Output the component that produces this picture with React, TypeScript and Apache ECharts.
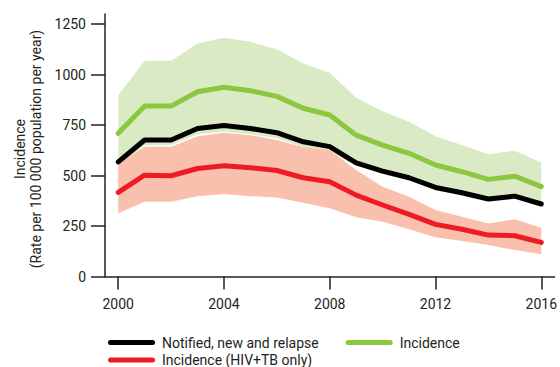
import React, { useEffect, useRef } from "react";
import * as echarts from "echarts";

const years = [2000, 2001, 2002, 2003, 2004, 2005, 2006, 2007, 2008, 2009, 2010, 2011, 2012, 2013, 2014, 2015, 2016];
const notified = [568, 676, 676, 733, 748, 733, 712, 667, 643, 563, 522, 489, 441, 415, 384, 398, 359];
const incidence = [709, 844, 844, 915, 937, 920, 892, 833, 800, 700, 651, 610, 552, 519, 481, 497, 445];
const incidenceLow = [550, 650, 650, 705, 718, 705, 685, 640, 615, 548, 507, 474, 427, 400, 370, 384, 345];
const incidenceHigh = [898, 1068, 1068, 1154, 1182, 1162, 1125, 1055, 1009, 885, 819, 766, 695, 651, 606, 623, 565];
const hivTb = [417, 502, 499, 535, 548, 539, 525, 489, 469, 403, 354, 308, 258, 234, 205, 202, 169];
const hivTbLow = [313, 370, 370, 398, 408, 398, 391, 365, 338, 293, 271, 234, 194, 176, 156, 131, 110];
const hivTbHigh = [560, 643, 643, 695, 712, 700, 676, 640, 625, 527, 445, 395, 329, 296, 263, 283, 242];

const xTicks = [2000, 2004, 2008, 2012, 2016];
const yTicks = [0, 250, 500, 750, 1000, 1250];

const seriesNames = ["Notified, new and relapse", "Incidence", "Incidence (HIV+TB only)"];
const yTitle = ["Incidence", "(Rate per 100 000 population per year)"];

const FONT = "Roboto";
const TEXT = "#231f20";

export default function App() {
  const ref = useRef<HTMLDivElement>(null);
  useEffect(() => {
    if (!ref.current) return;
    const chart = echarts.init(ref.current, undefined, { renderer: "svg" });
    const pts = (arr: number[]) => years.map((y, i) => [y, arr[i]]);
    const bandData = (lo: number[], hi: number[]) => years.map((y, i) => [y, lo[i], hi[i]]);
    const bandSeries = (name: string, lo: number[], hi: number[], color: string) => ({
      type: "custom",
      name,
      silent: true,
      data: bandData(lo, hi),
      encode: { x: 0, y: [1, 2] },
      renderItem: (params: any, api: any) => {
        if (params.dataIndex !== 0) return null;
        const top = years.map((y, i) => api.coord([y, hi[i]]));
        const bottom = years.map((y, i) => api.coord([y, lo[i]])).reverse();
        return {
          type: "polygon",
          shape: { points: top.concat(bottom) },
          style: { fill: color },
        };
      },
    });
    const lineBase = {
      type: "line",
      showSymbol: false,
      symbol: "none",
      silent: true,
    };
    const legendIcon = "path://M2.5,0 L44.5,0 A2.5,2.5 0 0 1 44.5,5 L2.5,5 A2.5,2.5 0 0 1 2.5,0 Z";
    chart.setOption({
      animation: false,
      textStyle: { fontFamily: FONT },
      grid: { left: 105, right: 3, top: 14, bottom: 90.5 },
      xAxis: {
        type: "value",
        min: 1999.5,
        max: 2016.5,
        splitLine: { show: false },
        axisLine: { show: true, lineStyle: { color: TEXT, width: 1.5 } },
        axisTick: { show: true, length: 13, lineStyle: { color: TEXT, width: 1.5 }, customValues: xTicks },
        axisLabel: {
          customValues: xTicks,
          margin: 20,
          color: TEXT,
          fontSize: 14,
          fontFamily: FONT,
          formatter: (v: number) => String(v),
        },
      },
      yAxis: {
        type: "value",
        min: 0,
        max: 1300,
        splitLine: { show: false },
        axisLine: { show: true, lineStyle: { color: TEXT, width: 1.5 } },
        axisTick: { show: true, length: 14, lineStyle: { color: TEXT, width: 1.5 }, customValues: yTicks },
        axisLabel: {
          customValues: yTicks,
          margin: 19,
          color: TEXT,
          fontSize: 14,
          fontFamily: FONT,
          formatter: (v: number) => String(v),
        },
      },
      legend: [
        {
          data: [seriesNames[0], seriesNames[1]],
          left: 103,
          top: 330.5,
          itemWidth: 47,
          itemHeight: 5,
          itemGap: 27,
          icon: legendIcon,
          textStyle: { color: TEXT, fontSize: 14, fontFamily: FONT, padding: [0, 0, 0, 2] },
          selectedMode: false,
        },
        {
          data: [seriesNames[2]],
          left: 103,
          top: 348,
          itemWidth: 47,
          itemHeight: 5,
          icon: legendIcon,
          textStyle: { color: TEXT, fontSize: 14, fontFamily: FONT, padding: [0, 0, 0, 2] },
          selectedMode: false,
        },
      ],
      graphic: [
        {
          type: "text",
          x: 20,
          y: 149,
          rotation: Math.PI / 2,
          style: {
            text: yTitle[0],
            fill: TEXT,
            fontSize: 14,
            fontFamily: FONT,
            align: "center",
            verticalAlign: "middle",
          },
        },
        {
          type: "text",
          x: 36,
          y: 149,
          rotation: Math.PI / 2,
          style: {
            text: yTitle[1],
            fill: TEXT,
            fontSize: 14,
            fontFamily: FONT,
            align: "center",
            verticalAlign: "middle",
          },
        },
      ],
      series: [
        bandSeries("incBand", incidenceLow, incidenceHigh, "#d9eac5"),
        bandSeries("hivBand", hivTbLow, hivTbHigh, "#f9c1ad"),
        {
          ...lineBase,
          name: seriesNames[1],
          data: pts(incidence),
          color: "#8dc63f",
          lineStyle: { color: "#8dc63f", width: 5, cap: "round", join: "round" },
        },
        {
          ...lineBase,
          name: seriesNames[0],
          data: pts(notified),
          color: "#000000",
          lineStyle: { color: "#000000", width: 5, cap: "round", join: "round" },
        },
        {
          ...lineBase,
          name: seriesNames[2],
          data: pts(hivTb),
          color: "#ed1c24",
          lineStyle: { color: "#ed1c24", width: 5, cap: "round", join: "round" },
        },
      ],
    });
    return () => chart.dispose();
  }, []);
  return (
    <div
      ref={ref}
      style={{ position: "absolute", left: 0, top: 0, width: 560, height: 367, background: "#fff" }}
    />
  );
}
